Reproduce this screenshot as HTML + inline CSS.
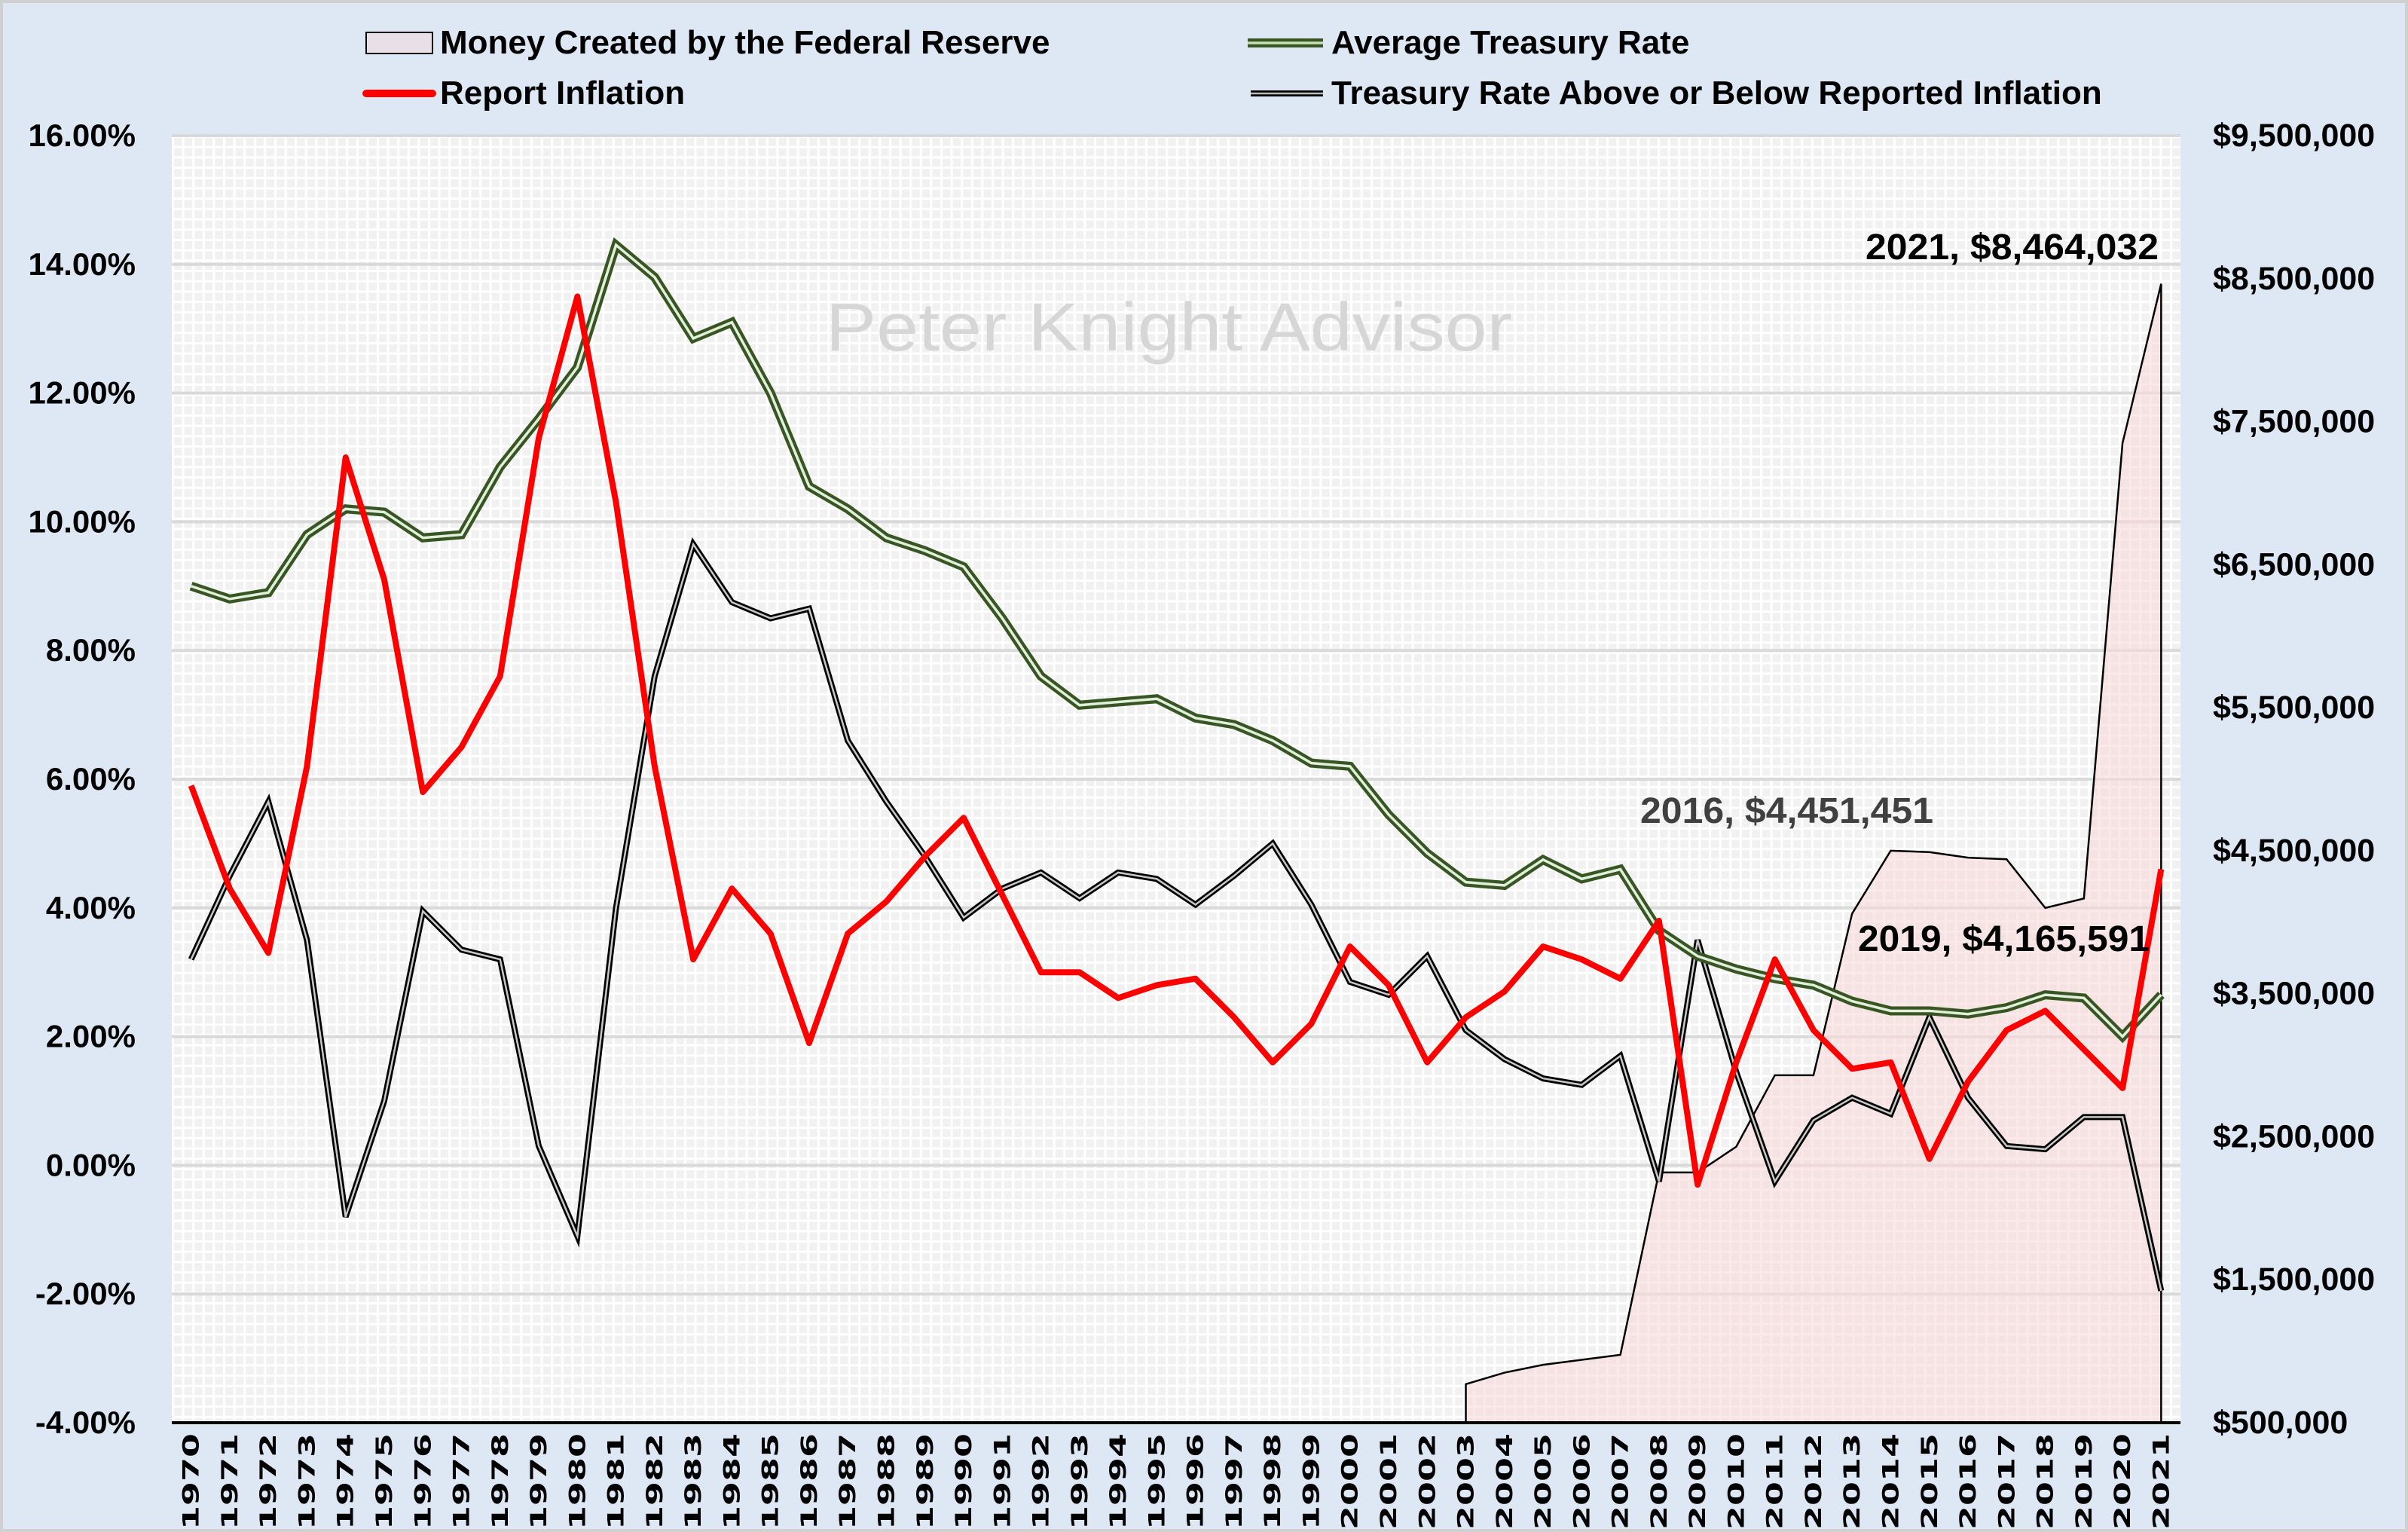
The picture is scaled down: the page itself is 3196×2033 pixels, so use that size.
<!DOCTYPE html>
<html><head><meta charset="utf-8"><style>
html,body{margin:0;padding:0;background:#dde8f4;}
svg{display:block;font-family:"Liberation Sans Narrow","Liberation Sans",sans-serif;}
</style></head><body>
<svg id="chart" width="3196" height="2033" viewBox="0 0 3196 2033" xmlns="http://www.w3.org/2000/svg">
<defs>
<pattern id="grid" width="13.6" height="13.7" patternUnits="userSpaceOnUse" x="228" y="180">
<rect width="13.6" height="13.7" fill="#f1f1f1"/>
<rect width="13.6" height="3" fill="#ffffff"/>
<rect width="3" height="13.7" fill="#ffffff"/>
</pattern>
</defs>
<rect x="2" y="2" width="3192" height="2029" fill="#dde8f4" stroke="#d0d0d0" stroke-width="4"/>
<rect x="228" y="180" width="2666" height="1708" fill="url(#grid)"/>
<g id="gridlines"></g>
<g id="marks"></g>
<text x="1096" y="465" font-family="Liberation Sans, sans-serif" font-size="90" fill="#d6d6d6" textLength="911" lengthAdjust="spacingAndGlyphs">Peter Knight Advisor</text>
<g id="axes"></g>
<g font-weight="bold" font-size="44" fill="#000">
<g><rect x="486" y="43" width="88" height="28" fill="#e8e0e6" stroke="#000" stroke-width="2"/><text x="584" y="71">Money Created by the Federal Reserve</text></g>
<g><line x1="1656" y1="57" x2="1756" y2="57" stroke="#375623" stroke-width="12"/><line x1="1656" y1="57" x2="1756" y2="57" stroke="#c6e0b4" stroke-width="3.5"/><text x="1767" y="71">Average Treasury  Rate</text></g>
<g><line x1="486" y1="124" x2="574" y2="124" stroke="#ff0000" stroke-width="10" stroke-linecap="round"/><text x="584" y="138">Report Inflation</text></g>
<g><line x1="1660" y1="124" x2="1756" y2="124" stroke="#000" stroke-width="8"/><line x1="1660" y1="124" x2="1756" y2="124" stroke="#bbb" stroke-width="2.5"/><text x="1767" y="138">Treasury Rate Above or Below Reported Inflation</text></g>
</g>
<text x="2476" y="344" font-size="48" font-weight="bold" font-family="Liberation Sans, sans-serif" fill="#000" textLength="389" lengthAdjust="spacingAndGlyphs">2021, $8,464,032</text>
<text x="2177" y="1092" font-size="48" font-weight="bold" font-family="Liberation Sans, sans-serif" fill="#404040" textLength="389" lengthAdjust="spacingAndGlyphs">2016, $4,451,451</text>
<text x="2466" y="1262" font-size="48" font-weight="bold" font-family="Liberation Sans, sans-serif" fill="#000" textLength="387" lengthAdjust="spacingAndGlyphs">2019, $4,165,591</text>
</svg>
<script>
const years=[];for(let y=1970;y<=2021;y++)years.push(y);
const inflation=[5.9,4.3,3.3,6.2,11.0,9.1,5.8,6.5,7.6,11.3,13.5,10.3,6.2,3.2,4.3,3.6,1.9,3.6,4.1,4.8,5.4,4.2,3.0,3.0,2.6,2.8,2.9,2.3,1.6,2.2,3.4,2.8,1.6,2.3,2.7,3.4,3.2,2.9,3.8,-0.3,1.6,3.2,2.1,1.5,1.6,0.1,1.3,2.1,2.4,1.8,1.2,4.6];
const treasury=[9.0,8.8,8.9,9.8,10.2,10.15,9.75,9.8,10.85,11.6,12.4,14.3,13.8,12.85,13.1,12.0,10.55,10.2,9.75,9.55,9.3,8.5,7.6,7.15,7.2,7.25,6.95,6.85,6.6,6.25,6.2,5.45,4.85,4.4,4.35,4.75,4.45,4.6,3.65,3.25,3.05,2.9,2.8,2.55,2.4,2.4,2.35,2.45,2.65,2.6,2.0,2.65];
const spread=[3.2,4.5,5.65,3.5,-0.8,1.0,3.95,3.35,3.2,0.3,-1.1,4.0,7.6,9.65,8.75,8.5,8.65,6.6,5.65,4.8,3.85,4.3,4.55,4.15,4.55,4.45,4.05,4.5,5.0,4.05,2.85,2.65,3.25,2.1,1.65,1.35,1.25,1.7,-0.25,3.5,1.45,-0.25,0.7,1.05,0.8,2.3,1.05,0.3,0.25,0.75,0.75,-1.95];
const moneyYears=[2003,2004,2005,2006,2007,2008,2009,2010,2011,2012,2013,2014,2015,2016,2017,2018,2019,2020,2021];
const money=[770000,850000,905000,940000,975000,2250000,2250000,2430000,2930000,2930000,4060000,4500000,4490000,4451451,4440000,4100000,4165591,7350000,8464032];
const leftTicks=[-4,-2,0,2,4,6,8,10,12,14,16];
const rightTicks=[500000,1500000,2500000,3500000,4500000,5500000,6500000,7500000,8500000,9500000];

const L=228,R=2894,T=180,B=1888;
const NS="http://www.w3.org/2000/svg";
const bw=(R-L)/years.length;
const x=yr=>L+(years.indexOf(yr)+0.5)*bw;
const yL=v=>B-(v+4)/20*(B-T);
const yR=v=>B-(v-500000)/9000000*(B-T);
function mk(tag,attrs,parent){const e=document.createElementNS(NS,tag);for(const k in attrs)e.setAttribute(k,attrs[k]);parent.appendChild(e);return e;}
const grid=document.getElementById('gridlines'),marks=document.getElementById('marks'),axes=document.getElementById('axes');

leftTicks.forEach(t=>{if(t===-4)return;const l=mk('line',{x1:L,x2:R,y1:yL(t),y2:yL(t),stroke:'#d9d9d9','stroke-width':4},grid);

});

let d=`M${x(moneyYears[0])},${B}`;moneyYears.forEach((yr,i)=>{d+=` L${x(yr)},${yR(money[i])}`;});d+=` L${x(moneyYears[moneyYears.length-1])},${B} Z`;
const area=mk('path',{d:d,fill:'#f8d9d9','fill-opacity':0.6,stroke:'#000','stroke-width':2.5},marks);



function pts(arr){return arr.map((v,i)=>`${x(years[i])},${yL(v)}`).join(' ');}
const sp1=mk('polyline',{points:pts(spread),fill:'none',stroke:'#000','stroke-width':8,'stroke-linejoin':'miter'},marks);


const sp2=mk('polyline',{points:pts(spread),fill:'none',stroke:'#c8c8c8','stroke-width':2.5},marks);


const tr1=mk('polyline',{points:pts(treasury),fill:'none',stroke:'#375623','stroke-width':12},marks);


const tr2=mk('polyline',{points:pts(treasury),fill:'none',stroke:'#e2efda','stroke-width':3.5},marks);


const inf=mk('polyline',{points:pts(inflation),fill:'none',stroke:'#ff0000','stroke-width':8,'stroke-linejoin':'round'},marks);



const ax=mk('line',{x1:L,x2:R,y1:B,y2:B,stroke:'#000','stroke-width':4},axes);



leftTicks.forEach(t=>{const tx=mk('text',{x:180,y:yL(t)+14,'text-anchor':'end','font-size':42,'font-weight':'bold'},axes);tx.textContent=t.toFixed(2)+'%';

});
rightTicks.forEach(t=>{const tx=mk('text',{x:2937,y:yR(t)+14,'font-size':43,'font-weight':'bold'},axes);tx.textContent='$'+t.toLocaleString('en-US');

});
years.forEach(yr=>{const cx=x(yr)+10,cy=1902;const tx=mk('text',{x:cx,y:cy,transform:`rotate(-90 ${cx} ${cy})`,'text-anchor':'end','font-size':29,'font-weight':'bold','font-family':'DejaVu Sans, sans-serif',textLength:128,lengthAdjust:'spacingAndGlyphs'},axes);tx.textContent=yr;

});
</script>
</body></html>
